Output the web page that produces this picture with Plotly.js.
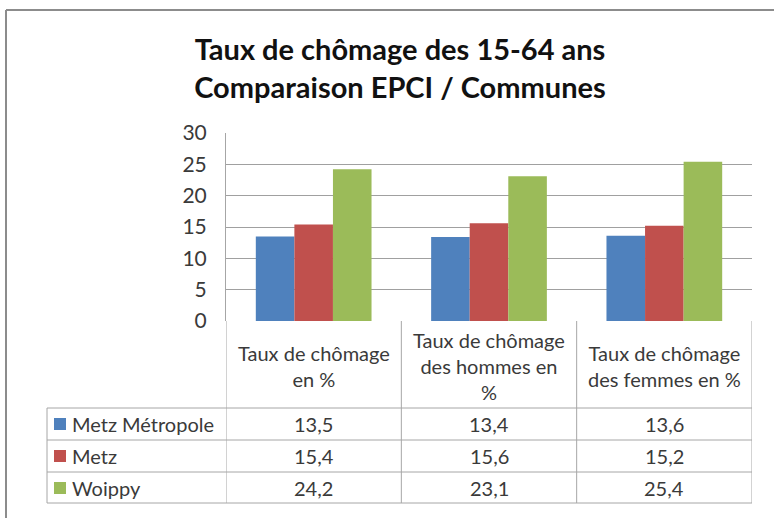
<!DOCTYPE html>
<html>
<head>
<meta charset="utf-8">
<script src="https://cdn.plot.ly/plotly-3.0.1.min.js"></script>
<style>
  html, body { margin: 0; padding: 0; background: #fff; }
  #chart { width: 774px; height: 518px; }
</style>
</head>
<body>
<div id="chart"></div>
<script>
// ---- data ----
const categories = ['chomage', 'hommes', 'femmes'];
const categoryLabels = [
  'Taux de chômage<br>en %',
  'Taux de chômage<br>des hommes en<br>%',
  'Taux de chômage<br>des femmes en %',
];
const seriesNames = ['Metz Métropole', 'Metz', 'Woippy'];
const metzMetropole = [13.5, 13.4, 13.6];
const metz = [15.4, 15.6, 15.2];
const woippy = [24.2, 23.1, 25.4];
const seriesValues = [metzMetropole, metz, woippy];
const seriesColors = ['#4F81BD', '#C0504D', '#9BBB59'];

// ---- geometry (pixels in the 774x518 frame) ----
const PLOT = { l: 226, r: 752, t: 133, b: 321 };
const FONT = "Lato, 'Noto Sans', sans-serif";
const TXT = '#3a3a3a';
const LINE = '#a6a6a6';
const rowLines = [408, 440, 472, 503];
const rowCenters = [424, 456, 488];

function xp(px) { return (px - PLOT.l) / (PLOT.r - PLOT.l); }
function yp(py) { return (PLOT.b - py) / (PLOT.b - PLOT.t); }
function fmt(v) { return v.toFixed(1).replace('.', ','); }

const traces = seriesValues.map((vals, s) => ({
  x: categories.map((_, i) => i),
  y: vals,
  type: 'bar',
  name: seriesNames[s],
  marker: { color: seriesColors[s] },
  hoverinfo: 'none',
}));

const shapes = [];
const annotations = [];

// outer frame (top and left edges)
shapes.push({ type: 'line', xref: 'paper', yref: 'paper', x0: xp(6), x1: xp(774), y0: yp(10), y1: yp(10), line: { color: '#8c8c8c', width: 2 } });
shapes.push({ type: 'line', xref: 'paper', yref: 'paper', x0: xp(6), x1: xp(6), y0: yp(10), y1: yp(518), line: { color: '#8c8c8c', width: 2 } });

// data table: column separators on category boundaries
for (let i = 0; i <= categories.length; i++) {
  shapes.push({ type: 'line', xref: 'x', yref: 'paper', x0: i - 0.5, x1: i - 0.5, y0: yp(PLOT.b), y1: yp(rowLines[rowLines.length - 1]), line: { color: LINE, width: 1 } });
}
shapes.push({ type: 'line', xref: 'paper', yref: 'paper', x0: xp(47), x1: xp(47), y0: yp(rowLines[0]), y1: yp(rowLines[rowLines.length - 1]), line: { color: LINE, width: 1 } });
for (const py of rowLines) {
  shapes.push({ type: 'line', xref: 'paper', yref: 'paper', x0: xp(47), x1: 1, y0: yp(py), y1: yp(py), line: { color: LINE, width: 1 } });
}

// header row
categoryLabels.forEach((lab, i) => {
  annotations.push({ x: i, xref: 'x', y: yp(366), yref: 'paper', text: lab, showarrow: false, xanchor: 'center', yanchor: 'middle', font: { family: FONT, size: 20, color: TXT } });
});

// series rows: legend key, name, values
seriesNames.forEach((name, s) => {
  const cy = rowCenters[s];
  shapes.push({ type: 'rect', xref: 'paper', yref: 'paper', x0: xp(54), x1: xp(66), y0: yp(cy + 6), y1: yp(cy - 6), fillcolor: seriesColors[s], line: { width: 0 } });
  annotations.push({ x: xp(70), xref: 'paper', y: yp(cy), yref: 'paper', text: name, showarrow: false, xanchor: 'left', yanchor: 'middle', font: { family: FONT, size: 20, color: TXT } });
  seriesValues[s].forEach((v, i) => {
    annotations.push({ x: i, xref: 'x', y: yp(cy), yref: 'paper', text: fmt(v), showarrow: false, xanchor: 'center', yanchor: 'middle', font: { family: FONT, size: 20, color: TXT } });
  });
});

const layout = {
  width: 774,
  height: 518,
  margin: { l: PLOT.l, r: 774 - PLOT.r, t: PLOT.t, b: 518 - PLOT.b, pad: 0 },
  paper_bgcolor: '#fff',
  plot_bgcolor: '#fff',
  showlegend: false,
  barmode: 'group',
  bargap: 0.34,
  bargroupgap: 0,
  font: { family: FONT, color: TXT },
  title: {
    text: '<b>Taux de chômage des 15-64 ans<br>Comparaison EPCI / Communes</b>',
    xref: 'container', x: 400 / 774, xanchor: 'center',
    yref: 'container', y: 1 - 60 / 518, yanchor: 'middle',
    font: { family: FONT, size: 29, color: '#111' },
  },
  xaxis: {
    range: [-0.5, 2.5],
    showticklabels: false,
    showgrid: false,
    zeroline: false,
    ticks: '',
    fixedrange: true,
  },
  yaxis: {
    range: [0, 30],
    dtick: 5,
    showgrid: true,
    gridcolor: '#a0a0a0',
    gridwidth: 1,
    zeroline: false,
    showline: true,
    linecolor: LINE,
    linewidth: 1,
    ticks: '',
    ticklabelstandoff: 14,
    tickfont: { family: FONT, size: 21, color: TXT },
    fixedrange: true,
  },
  shapes,
  annotations,
};

Plotly.newPlot('chart', traces, layout, { displayModeBar: false, staticPlot: true });
</script>
</body>
</html>
